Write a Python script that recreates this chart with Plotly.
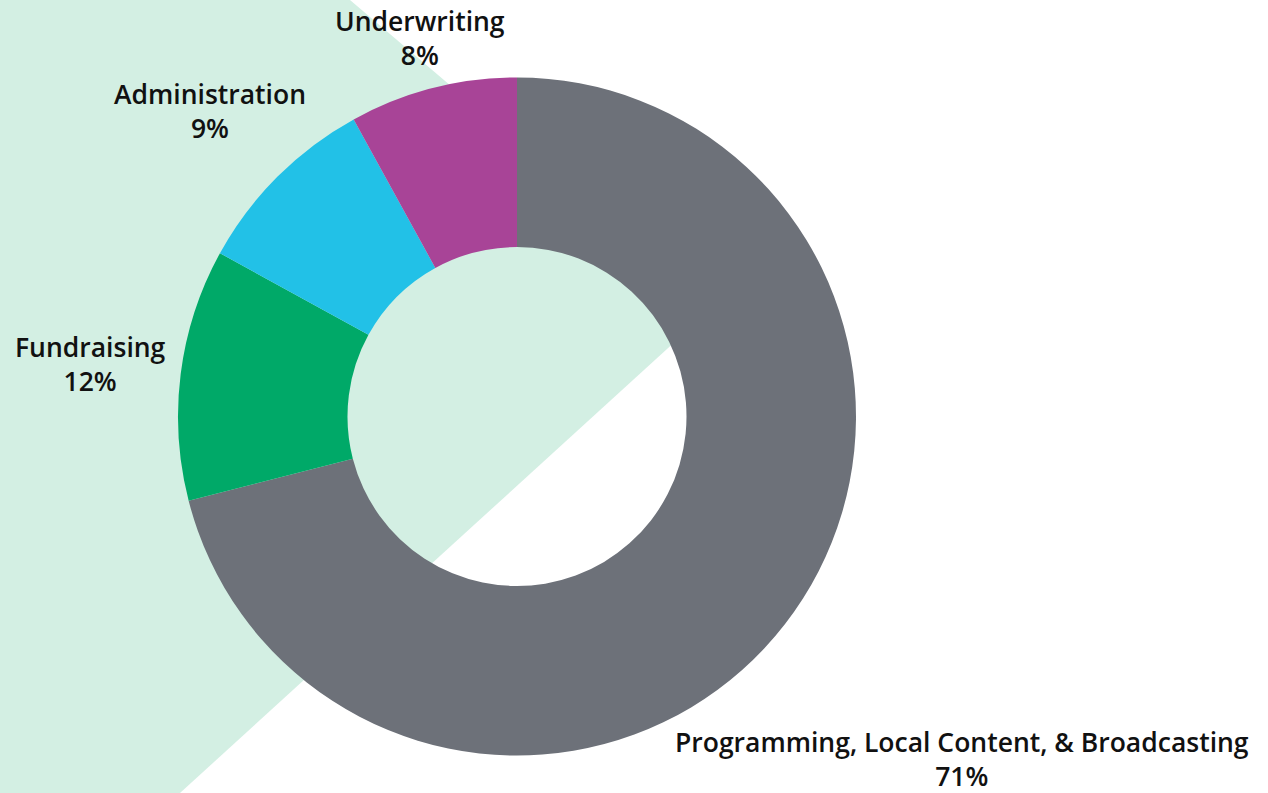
import plotly.graph_objects as go

# ---- data ----
categories = ["Programming, Local Content, & Broadcasting", "Fundraising", "Administration", "Underwriting"]
values = [71, 12, 9, 8]
colors = ["#6d7179", "#00a968", "#22c1e7", "#a84497"]

W, H = 1268, 793

# label anchor points (pixel centers) for each category
label_pos = [(962, 759), (90, 364), (210, 111), (420, 38)]

fig = go.Figure()

cx, cy, R = 517, 416.5, 339
fig.add_trace(go.Pie(
    labels=categories,
    values=values,
    marker=dict(colors=colors, line=dict(width=0)),
    hole=0.5,
    sort=False,
    direction="clockwise",
    rotation=0,
    textinfo="none",
    hoverinfo="label+percent",
    showlegend=False,
    domain=dict(x=[(cx - R) / W, (cx + R) / W],
                y=[(H - cy - R) / H, (H - cy + R) / H]),
))

# decorative background shape
pts = [(0, 0), (350, 0), (712, 308), (180, 793), (0, 793)]
path = "M " + " L ".join(f"{x / W:.5f},{1 - y / H:.5f}" for x, y in pts) + " Z"
fig.add_shape(type="path", path=path, xref="paper", yref="paper",
              fillcolor="#d3efe3", line=dict(width=0), layer="below")

total = sum(values)
for cat, v, (px, py) in zip(categories, values, label_pos):
    fig.add_annotation(
        x=px / W, y=1 - py / H, xref="paper", yref="paper",
        text=f"{cat}<br>{round(100 * v / total)}%",
        showarrow=False, xanchor="center", yanchor="middle", align="center",
        font=dict(family="Open Sans", size=26.5, color="#111111", weight=600),
    )

fig.update_layout(
    width=W, height=H,
    margin=dict(l=0, r=0, t=0, b=0),
    paper_bgcolor="white",
    plot_bgcolor="white",
)

fig.write_html("out.html")
